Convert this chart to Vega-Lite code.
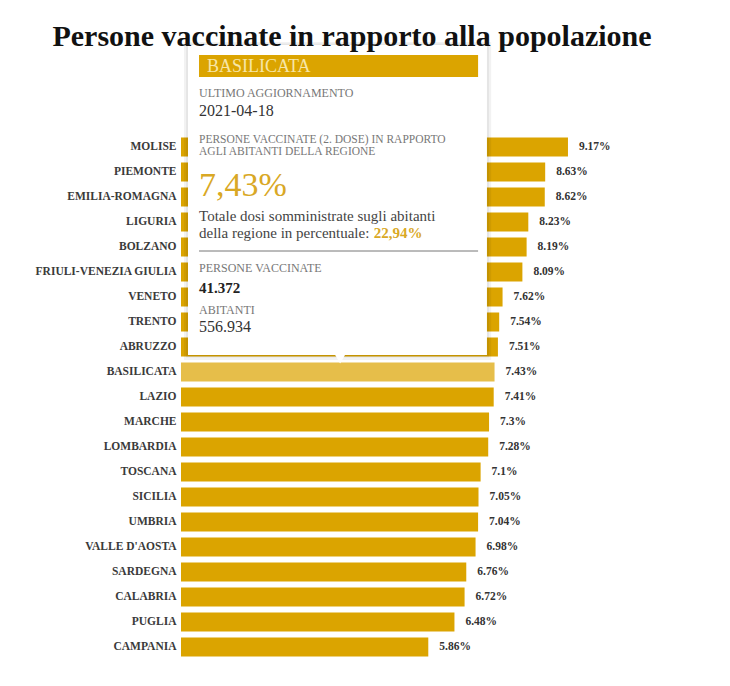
{
  "$schema": "https://vega.github.io/schema/vega-lite/v6.json",
  "autosize": "none",
  "width": 422,
  "height": 525,
  "padding": {"left": 181, "top": 134.5, "right": 127, "bottom": 26.5},
  "background": "white",
  "title": {
    "text": "Persone vaccinate in rapporto alla popolazione",
    "font": "Liberation Serif",
    "fontSize": 30,
    "fontWeight": "bold",
    "color": "#111111",
    "anchor": "middle",
    "frame": "group",
    "dx": -40,
    "offset": -10
  },
  "config": {"view": {"stroke": null}},
  "datasets": {
    "regioni": [
      {"regione": "MOLISE", "quota": 0.0917},
      {"regione": "PIEMONTE", "quota": 0.0863},
      {"regione": "EMILIA-ROMAGNA", "quota": 0.0862},
      {"regione": "LIGURIA", "quota": 0.0823},
      {"regione": "BOLZANO", "quota": 0.0819},
      {"regione": "FRIULI-VENEZIA GIULIA", "quota": 0.0809},
      {"regione": "VENETO", "quota": 0.0762},
      {"regione": "TRENTO", "quota": 0.0754},
      {"regione": "ABRUZZO", "quota": 0.0751},
      {"regione": "BASILICATA", "quota": 0.0743},
      {"regione": "LAZIO", "quota": 0.0741},
      {"regione": "MARCHE", "quota": 0.073},
      {"regione": "LOMBARDIA", "quota": 0.0728},
      {"regione": "TOSCANA", "quota": 0.071},
      {"regione": "SICILIA", "quota": 0.0705},
      {"regione": "UMBRIA", "quota": 0.0704},
      {"regione": "VALLE D'AOSTA", "quota": 0.0698},
      {"regione": "SARDEGNA", "quota": 0.0676},
      {"regione": "CALABRIA", "quota": 0.0672},
      {"regione": "PUGLIA", "quota": 0.0648},
      {"regione": "CAMPANIA", "quota": 0.0586}
    ],
    "tooltip": [
      {"regione": "BASILICATA", "aggiornamento": "2021-04-18", "quota": "7,43%", "dosi": "22,94%", "vaccinati": "41.372", "abitanti": "556.934"}
    ]
  },
  "encoding": {
    "y": {
      "field": "regione",
      "type": "nominal",
      "sort": null,
      "scale": {"paddingInner": 0.24, "paddingOuter": 0.12},
      "axis": {
        "title": null,
        "domain": false,
        "ticks": false,
        "labelPadding": 5,
        "labelFont": "Liberation Serif",
        "labelFontSize": 11.5,
        "labelFontWeight": "bold",
        "labelColor": "#3a3a3a",
        "labelLimit": 300
      }
    }
  },
  "layer": [
    {
      "data": {"name": "regioni"},
      "mark": {"type": "bar"},
      "encoding": {
        "x": {"field": "quota", "type": "quantitative", "scale": {"domain": [0, 0.1]}, "axis": null},
        "color": {
          "condition": {"test": "datum.regione === 'BASILICATA'", "value": "#E6BE4A"},
          "value": "#DBA400"
        }
      }
    },
    {
      "data": {"name": "regioni"},
      "mark": {"type": "text", "align": "left", "baseline": "middle", "dx": 11, "font": "Liberation Serif", "fontSize": 11.5, "fontWeight": "bold", "color": "#333333"},
      "encoding": {
        "x": {"field": "quota", "type": "quantitative"},
        "text": {"field": "quota", "type": "quantitative", "format": ".2~%"}
      }
    },
    {
      "data": {"name": "tooltip"},
      "mark": {"type": "rect", "color": "#000000", "opacity": 0.05, "height": 318, "yOffset": -171},
      "encoding": {
        "x": {"datum": 0.0007},
        "x2": {"datum": 0.0735},
        "y": {"field": "regione", "type": "nominal"}
      }
    },
    {
      "data": {"name": "tooltip"},
      "mark": {"type": "rect", "color": "#000000", "opacity": 0.05, "height": 314, "yOffset": -171.5},
      "encoding": {
        "x": {"datum": 0.0012},
        "x2": {"datum": 0.073},
        "y": {"field": "regione", "type": "nominal"}
      }
    },
    {
      "data": {"name": "tooltip"},
      "mark": {"type": "rect", "color": "#ffffff", "height": 310, "yOffset": -172},
      "encoding": {
        "x": {"datum": 0.00166},
        "x2": {"datum": 0.0725},
        "y": {"field": "regione", "type": "nominal"}
      }
    },
    {
      "data": {"name": "tooltip"},
      "mark": {"type": "point", "shape": "triangle-down", "filled": true, "color": "#ffffff", "opacity": 1, "size": 160, "yOffset": -14},
      "encoding": {
        "x": {"datum": 0.0377},
        "y": {"field": "regione", "type": "nominal"}
      }
    },
    {
      "data": {"name": "tooltip"},
      "mark": {"type": "rect", "color": "#DBA400", "height": 22, "yOffset": -306},
      "encoding": {
        "x": {"datum": 0.00427},
        "x2": {"datum": 0.0704},
        "y": {"field": "regione", "type": "nominal"}
      }
    },
    {
      "data": {"name": "tooltip"},
      "mark": {"type": "rule", "color": "#777777", "strokeWidth": 1, "yOffset": -121},
      "encoding": {
        "x": {"datum": 0.00427},
        "x2": {"datum": 0.0704},
        "y": {"field": "regione", "type": "nominal"}
      }
    },
    {
      "data": {"name": "tooltip"},
      "mark": {"type": "text", "align": "left", "baseline": "middle", "dy": -305, "font": "Liberation Serif", "fontSize": 18, "color": "#F7E6A6"},
      "encoding": {
        "x": {"datum": 0.00616},
        "y": {"field": "regione", "type": "nominal"},
        "text": {"field": "regione"}
      }
    },
    {
      "data": {"name": "tooltip"},
      "mark": {"type": "text", "align": "left", "baseline": "middle", "dy": -279, "font": "Liberation Serif", "fontSize": 12, "color": "#777777"},
      "encoding": {
        "x": {"datum": 0.00427},
        "y": {"field": "regione", "type": "nominal"},
        "text": {"value": "ULTIMO AGGIORNAMENTO"}
      }
    },
    {
      "data": {"name": "tooltip"},
      "mark": {"type": "text", "align": "left", "baseline": "middle", "dy": -261, "font": "Liberation Serif", "fontSize": 16, "color": "#333333"},
      "encoding": {
        "x": {"datum": 0.00427},
        "y": {"field": "regione", "type": "nominal"},
        "text": {"field": "aggiornamento"}
      }
    },
    {
      "data": {"name": "tooltip"},
      "mark": {"type": "text", "align": "left", "baseline": "middle", "dy": -232, "font": "Liberation Serif", "fontSize": 11.5, "color": "#777777"},
      "encoding": {
        "x": {"datum": 0.00427},
        "y": {"field": "regione", "type": "nominal"},
        "text": {"value": "PERSONE VACCINATE (2. DOSE) IN RAPPORTO"}
      }
    },
    {
      "data": {"name": "tooltip"},
      "mark": {"type": "text", "align": "left", "baseline": "middle", "dy": -220, "font": "Liberation Serif", "fontSize": 11.5, "color": "#777777"},
      "encoding": {
        "x": {"datum": 0.00427},
        "y": {"field": "regione", "type": "nominal"},
        "text": {"value": "AGLI ABITANTI DELLA REGIONE"}
      }
    },
    {
      "data": {"name": "tooltip"},
      "mark": {"type": "text", "align": "left", "baseline": "middle", "dy": -186, "font": "Liberation Serif", "fontSize": 34, "color": "#D9A825"},
      "encoding": {
        "x": {"datum": 0.00427},
        "y": {"field": "regione", "type": "nominal"},
        "text": {"field": "quota"}
      }
    },
    {
      "data": {"name": "tooltip"},
      "mark": {"type": "text", "align": "left", "baseline": "middle", "dy": -156, "font": "Liberation Serif", "fontSize": 15, "color": "#444444"},
      "encoding": {
        "x": {"datum": 0.00427},
        "y": {"field": "regione", "type": "nominal"},
        "text": {"value": "Totale dosi somministrate sugli abitanti"}
      }
    },
    {
      "data": {"name": "tooltip"},
      "mark": {"type": "text", "align": "left", "baseline": "middle", "dy": -139, "font": "Liberation Serif", "fontSize": 15, "color": "#444444"},
      "encoding": {
        "x": {"datum": 0.00427},
        "y": {"field": "regione", "type": "nominal"},
        "text": {"value": "della regione in percentuale:"}
      }
    },
    {
      "data": {"name": "tooltip"},
      "mark": {"type": "text", "align": "left", "baseline": "middle", "dy": -139, "font": "Liberation Serif", "fontSize": 15, "fontWeight": "bold", "color": "#D9A825"},
      "encoding": {
        "x": {"datum": 0.0457},
        "y": {"field": "regione", "type": "nominal"},
        "text": {"field": "dosi"}
      }
    },
    {
      "data": {"name": "tooltip"},
      "mark": {"type": "text", "align": "left", "baseline": "middle", "dy": -104, "font": "Liberation Serif", "fontSize": 12, "color": "#777777"},
      "encoding": {
        "x": {"datum": 0.00427},
        "y": {"field": "regione", "type": "nominal"},
        "text": {"value": "PERSONE VACCINATE"}
      }
    },
    {
      "data": {"name": "tooltip"},
      "mark": {"type": "text", "align": "left", "baseline": "middle", "dy": -84, "font": "Liberation Serif", "fontSize": 15, "fontWeight": "bold", "color": "#222222"},
      "encoding": {
        "x": {"datum": 0.00427},
        "y": {"field": "regione", "type": "nominal"},
        "text": {"field": "vaccinati"}
      }
    },
    {
      "data": {"name": "tooltip"},
      "mark": {"type": "text", "align": "left", "baseline": "middle", "dy": -62, "font": "Liberation Serif", "fontSize": 12, "color": "#777777"},
      "encoding": {
        "x": {"datum": 0.00427},
        "y": {"field": "regione", "type": "nominal"},
        "text": {"value": "ABITANTI"}
      }
    },
    {
      "data": {"name": "tooltip"},
      "mark": {"type": "text", "align": "left", "baseline": "middle", "dy": -45, "font": "Liberation Serif", "fontSize": 16, "color": "#333333"},
      "encoding": {
        "x": {"datum": 0.00427},
        "y": {"field": "regione", "type": "nominal"},
        "text": {"value": "556.934"}
      }
    }
  ]
}
